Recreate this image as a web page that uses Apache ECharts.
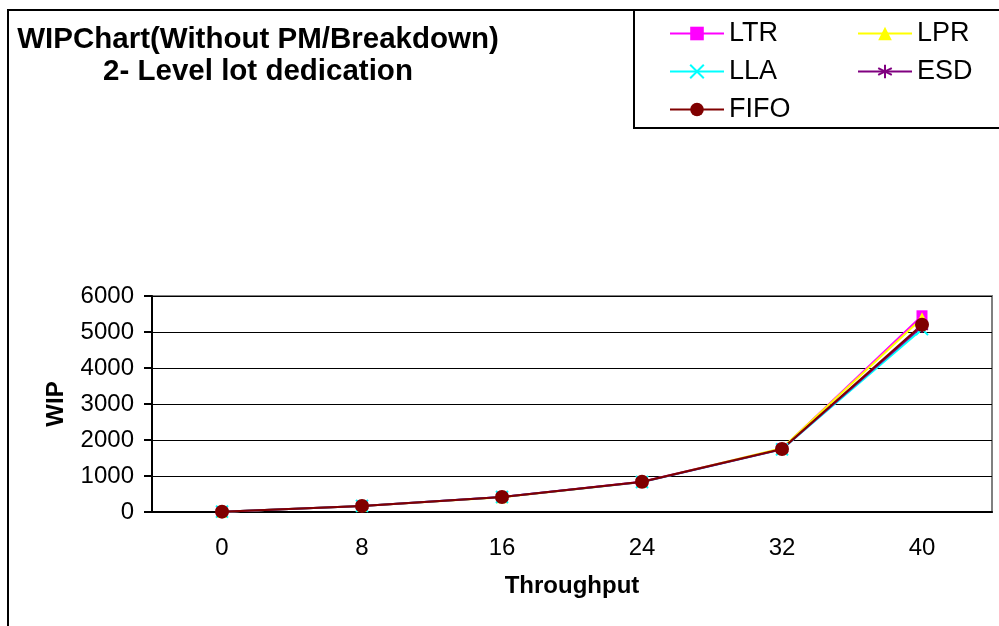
<!DOCTYPE html>
<html>
<head>
<meta charset="utf-8">
<script src="https://cdn.jsdelivr.net/npm/echarts@6/dist/echarts.min.js"></script>
<style>
html, body { margin: 0; padding: 0; background: #fff; }
#main { width: 999px; height: 626px; }
</style>
</head>
<body>
<div id="main"></div>
<script>
// throughput categories
var throughput = ['0', '8', '16', '24', '32', '40'];

// WIP per rule
var ltr  = [10, 170, 415, 840, 1760, 5450];
var lpr  = [10, 165, 410, 830, 1770, 5380];
var lla  = [10, 170, 415, 835, 1740, 5080];
var esd  = [10, 170, 415, 835, 1740, 5150];
var fifo = [10, 170, 415, 840, 1750, 5200];

var yTicks = { min: 0, max: 6000, interval: 1000 };

var crossPath = 'path://M0,0L10,10M10,0L0,10';
var starPath = 'path://M5,0L5,10M0,2.5L10,7.5M0,7.5L10,2.5';

function mkSeries(name, data, color, symbol, size, hollowStroke) {
    var s = {
        name: name,
        type: 'line',
        data: data,
        symbol: symbol,
        symbolSize: size,
        lineStyle: { color: color, width: 2 },
        itemStyle: { color: color },
        animation: false
    };
    if (hollowStroke) {
        s.itemStyle = { color: color, borderColor: color, borderWidth: 2 };
    }
    return s;
}

var myChart = echarts.init(document.getElementById('main'));

var font = 'Liberation Sans, Arial, sans-serif';

var option = {
    backgroundColor: '#fff',
    animation: false,
    title: {
        text: 'WIPChart(Without PM/Breakdown)\n2- Level lot dedication',
        left: 253,
        top: 19,
        textAlign: 'center',
        textStyle: { fontFamily: font, fontSize: 29.5, fontWeight: 'bold', color: '#000', lineHeight: 32, align: 'center' }
    },
    legend: [{
        data: ['LTR', 'LLA', 'FIFO'],
        orient: 'vertical',
        left: 664,
        top: 15,
        itemWidth: 54,
        itemHeight: 17,
        itemGap: 11,
        textStyle: { fontFamily: font, fontSize: 27, color: '#000', lineHeight: 27 }
    }, {
        data: ['LPR', 'ESD'],
        orient: 'vertical',
        left: 852,
        top: 15,
        itemWidth: 54,
        itemHeight: 17,
        itemGap: 11,
        textStyle: { fontFamily: font, fontSize: 27, color: '#000', lineHeight: 27 }
    }],
    graphic: [{
        type: 'rect',
        shape: { x: 8, y: 10, width: 1100, height: 700 },
        style: { fill: 'none', stroke: '#000', lineWidth: 2 },
        z: -1
    }, {
        type: 'rect',
        shape: { x: 634, y: 10, width: 400, height: 118 },
        style: { fill: '#fff', stroke: '#000', lineWidth: 2 },
        z: 0
    }],
    grid: {
        left: 152,
        right: 7,
        top: 296,
        bottom: 114,
        show: true,
        borderColor: '#808080',
        borderWidth: 2
    },
    xAxis: {
        type: 'category',
        data: throughput,
        boundaryGap: true,
        name: 'Throughput',
        nameLocation: 'middle',
        nameGap: 62,
        nameTextStyle: { fontFamily: font, fontSize: 24, fontWeight: 'bold', color: '#000' },
        axisLine: { lineStyle: { color: '#000', width: 2 } },
        axisTick: { length: 8, lineStyle: { color: '#000', width: 2 } },
        axisLabel: { fontFamily: font, fontSize: 24, color: '#000', margin: 24 }
    },
    yAxis: {
        type: 'value',
        min: yTicks.min,
        max: yTicks.max,
        interval: yTicks.interval,
        name: 'WIP',
        nameLocation: 'middle',
        nameGap: 84,
        nameRotate: 90,
        nameTextStyle: { fontFamily: font, fontSize: 24, fontWeight: 'bold', color: '#000' },
        axisLine: { show: true, lineStyle: { color: '#000', width: 2 } },
        axisTick: { show: true, length: 8, lineStyle: { color: '#000', width: 2 } },
        axisLabel: { fontFamily: font, fontSize: 24, color: '#000', margin: 18, formatter: function (v) { return String(v); } },
        splitLine: { lineStyle: { color: '#000', width: 1 } }
    },
    series: [
        mkSeries('LTR', ltr, '#FF00FF', 'rect', 11),
        mkSeries('LPR', lpr, '#FFFF00', 'triangle', 12),
        mkSeries('LLA', lla, '#00FFFF', crossPath, 12, true),
        mkSeries('ESD', esd, '#800080', starPath, 12, true),
        mkSeries('FIFO', fifo, '#800000', 'circle', 14)
    ]
};

myChart.setOption(option);
</script>
</body>
</html>
